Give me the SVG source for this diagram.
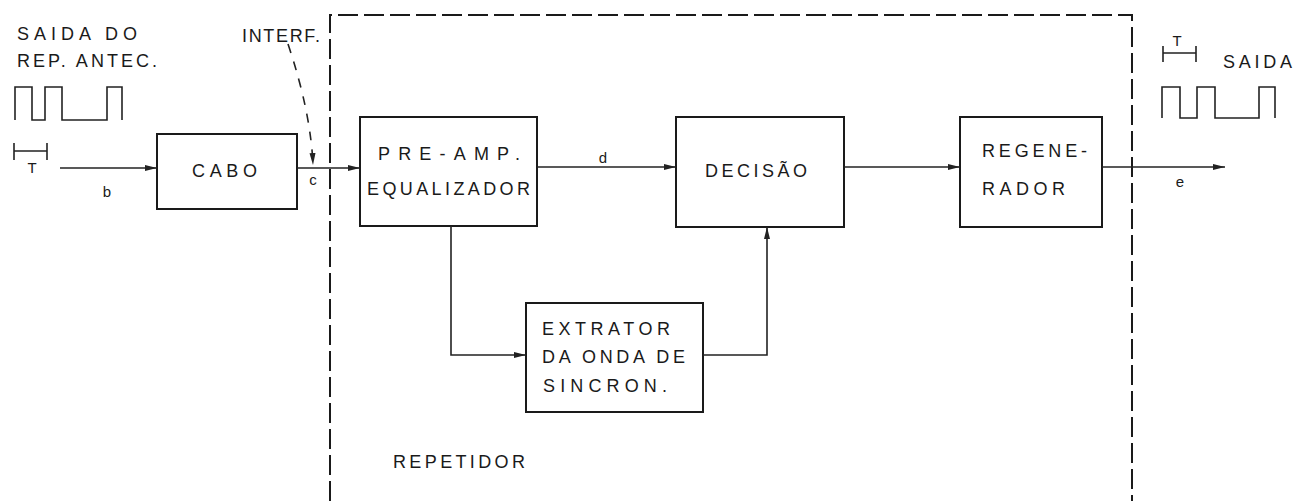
<svg xmlns="http://www.w3.org/2000/svg" width="1294" height="501" viewBox="0 0 1294 501">
<defs>
<marker id="arr" markerWidth="12" markerHeight="8" refX="12" refY="4" orient="auto" markerUnits="userSpaceOnUse">
<path d="M0,1 L12,4 L0,7 Z" fill="#222"/>
</marker>
<style>
.box{fill:none;stroke:#1a1a1a;stroke-width:2}
.ln{fill:none;stroke:#222;stroke-width:1.6}
.dash{fill:none;stroke:#1a1a1a;stroke-width:2;stroke-dasharray:20 6}
.t{font-family:"Liberation Sans",Arial,sans-serif;font-size:18px;fill:#1a1a1a}
.s{font-family:"Liberation Sans",Arial,sans-serif;font-size:15px;fill:#1a1a1a}
</style>
</defs>
<rect width="1294" height="501" fill="#fff"/>

<g id="repetidor">
<path class="dash" d="M330,501 V15 H1132 V501"/>
<text class="t" x="393" y="468" textLength="132" lengthAdjust="spacing">REPETIDOR</text>
</g>

<g id="input-signal">
<text class="t" x="17" y="40" textLength="120" lengthAdjust="spacing">SAIDA DO</text>
<text class="t" x="17" y="67" textLength="140" lengthAdjust="spacing">REP. ANTEC.</text>
<path class="ln" d="M15,120 V87 H32 V120 H45 V87 H62 V120 H107 V87 H122 V120"/>
<path class="ln" d="M14,143 V160 M14,151 H47 M47,143 V160"/>
<text class="s" x="32" y="173" text-anchor="middle">T</text>
</g>

<g id="cabo">
<rect class="box" x="157" y="134" width="140" height="75"/>
<text class="t" x="192" y="177" textLength="65" lengthAdjust="spacing">CABO</text>
</g>

<g id="interf">
<text class="t" x="242" y="42" textLength="78" lengthAdjust="spacing">INTERF.</text>
</g>

<g id="preamp">
<rect class="box" x="360" y="117" width="177" height="109"/>
<text class="t" x="378" y="160" textLength="142" lengthAdjust="spacing">PRE-AMP.</text>
<text class="t" x="367" y="195" textLength="163" lengthAdjust="spacing">EQUALIZADOR</text>
</g>

<g id="decisao">
<rect class="box" x="676" y="117" width="168" height="110"/>
<text class="t" x="705" y="177" textLength="102" lengthAdjust="spacing">DECISÃO</text>
</g>

<g id="regenerador">
<rect class="box" x="960" y="117" width="142" height="110"/>
<text class="t" x="982" y="157" textLength="105" lengthAdjust="spacing">REGENE-</text>
<text class="t" x="982" y="195" textLength="83" lengthAdjust="spacing">RADOR</text>
</g>

<g id="extrator">
<rect class="box" x="526" y="303" width="177" height="109"/>
<text class="t" x="542" y="335" textLength="128" lengthAdjust="spacing">EXTRATOR</text>
<text class="t" x="542" y="363" textLength="143" lengthAdjust="spacing">DA ONDA DE</text>
<text class="t" x="543" y="392" textLength="124" lengthAdjust="spacing">SINCRON.</text>
</g>

<g id="output-signal">
<path class="ln" d="M1163,46 V62 M1163,53 H1196 M1196,46 V62"/>
<text class="s" x="1177" y="46" text-anchor="middle">T</text>
<text class="t" x="1223" y="68" textLength="69" lengthAdjust="spacing">SAIDA</text>
<path class="ln" d="M1162,118 V87 H1180 V118 H1197 V87 H1215 V118 H1259 V87 H1275 V118"/>
</g>

<g id="connectors">
<path class="ln" d="M60,168 H157" marker-end="url(#arr)"/>
<text class="s" x="107" y="197" text-anchor="middle">b</text>
<path class="ln" d="M297,168 H360" marker-end="url(#arr)"/>
<text class="s" x="313" y="185" text-anchor="middle">c</text>
<path class="ln" d="M288,44 Q300,80 306,110 T313,165" stroke-dasharray="9 9" marker-end="url(#arr)"/>
<path class="ln" d="M537,167 H676" marker-end="url(#arr)"/>
<text class="s" x="603" y="163" text-anchor="middle">d</text>
<path class="ln" d="M844,167 H960" marker-end="url(#arr)"/>
<path class="ln" d="M1102,167 H1225" marker-end="url(#arr)"/>
<text class="s" x="1180" y="187" text-anchor="middle">e</text>
<path class="ln" d="M451,226 V355 H526" marker-end="url(#arr)"/>
<path class="ln" d="M703,355 H767 V227" marker-end="url(#arr)"/>
</g>
</svg>
